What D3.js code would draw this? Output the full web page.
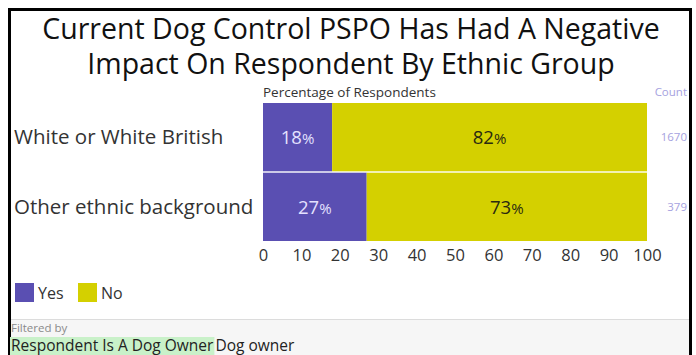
<!DOCTYPE html>
<html><head><meta charset="utf-8">
<script src="https://cdn.jsdelivr.net/npm/d3@7"></script>
<style>
body{margin:0;background:#fff;}
svg{display:block;font-family:"Open Sans",sans-serif;}
</style></head>
<body>
<svg id="c" width="696" height="355"></svg>
<script>
const titleLines = ["Current Dog Control PSPO Has Had A Negative", "Impact On Respondent By Ethnic Group"];
const categories = ["White or White British", "Other ethnic background"];
const seriesNames = ["Yes", "No"];
const yesValues = [18, 27];
const noValues = [82, 73];
const counts = [1670, 379];
const xTicks = [0, 10, 20, 30, 40, 50, 60, 70, 80, 90, 100];
const colors = ["#5a4fb2", "#d4d000"];
const labelColors = ["#e4e1ff", "#2a2a10"];

const svg = d3.select("#c");

// filter area
svg.append("rect").attr("x", 10).attr("y", 319).attr("width", 680).attr("height", 36).attr("fill", "#f6f6f6");
svg.append("line").attr("x1", 10).attr("x2", 690).attr("y1", 319.5).attr("y2", 319.5).attr("stroke", "#dcdcdc");

// border
svg.append("path").attr("d", "M9.5,355 V9.5 H690.5 V355").attr("fill", "none").attr("stroke", "#000").attr("stroke-width", 3);

// title
svg.append("g").selectAll("text").data(titleLines).join("text")
  .attr("x", 351).attr("y", (d, i) => 39 + i * 35)
  .attr("text-anchor", "middle").attr("font-size", 28.5).attr("fill", "#111").text(d => d);

const x = d3.scaleLinear().domain([0, 100]).range([263, 647]);
const y = d3.scaleBand().domain(categories).range([103, 241]).paddingInner(0.02);

svg.append("text").attr("x", 263).attr("y", 97).attr("font-size", 13.5).attr("fill", "#333").text("Percentage of Respondents");
svg.append("text").attr("x", 687).attr("y", 96).attr("text-anchor", "end").attr("font-size", 11.5).attr("fill", "#a6a2e0").text("Count");

const rows = categories.map((c, i) => ({c, vals: [yesValues[i], noValues[i]], n: counts[i]}));

rows.forEach(r => {
  let acc = 0;
  r.vals.forEach((v, j) => {
    const x0 = x(acc), x1 = x(acc + v);
    svg.append("rect").attr("x", x0).attr("y", y(r.c)).attr("width", x1 - x0).attr("height", y.bandwidth()).attr("fill", colors[j]);
    const t = svg.append("text").attr("x", (x0 + x1) / 2).attr("y", y(r.c) + y.bandwidth() / 2 + 7)
      .attr("text-anchor", "middle").attr("fill", labelColors[j]).attr("font-size", 18.5);
    t.append("tspan").text(v);
    t.append("tspan").attr("font-size", 15).text("%");
    acc += v;
  });
  svg.append("text").attr("x", 14).attr("y", y(r.c) + y.bandwidth() / 2 + 7).attr("font-size", 20.5).attr("fill", "#333").text(r.c);
  svg.append("text").attr("x", 687).attr("y", y(r.c) + y.bandwidth() / 2 + 4).attr("text-anchor", "end").attr("font-size", 11.5).attr("fill", "#a6a2e0").text(r.n);
});

const axis = svg.append("g").attr("transform", "translate(0,241)")
  .call(d3.axisBottom(x).tickValues(xTicks).tickSize(0).tickPadding(8));
axis.select(".domain").remove();
axis.selectAll("text").attr("font-size", 16.5).attr("fill", "#333").attr("font-family", "Open Sans, sans-serif");

// legend
const lg = svg.append("g");
seriesNames.forEach((s, i) => {
  const lx = 15 + i * 63;
  lg.append("rect").attr("x", lx).attr("y", 283).attr("width", 19).attr("height", 19).attr("fill", colors[i]);
  lg.append("text").attr("x", lx + 23).attr("y", 299).attr("font-size", 16).attr("fill", "#333").text(s);
});

// filter text
svg.append("text").attr("x", 11).attr("y", 332).attr("font-size", 11.5).attr("fill", "#8a8a8a").text("Filtered by");
const hl = svg.append("rect").attr("x", 10).attr("y", 337).attr("height", 18).attr("fill", "#c9f1c9");
const ft = svg.append("text").attr("x", 11).attr("y", 351).attr("font-size", 15.5).attr("fill", "#222");
const tsp = ft.append("tspan").text("Respondent Is A Dog Owner");
const bbw = tsp.node().getComputedTextLength();
hl.attr("width", bbw + 2);
ft.append("tspan").attr("dx", 2).text("Dog owner");
</script>
</body></html>
